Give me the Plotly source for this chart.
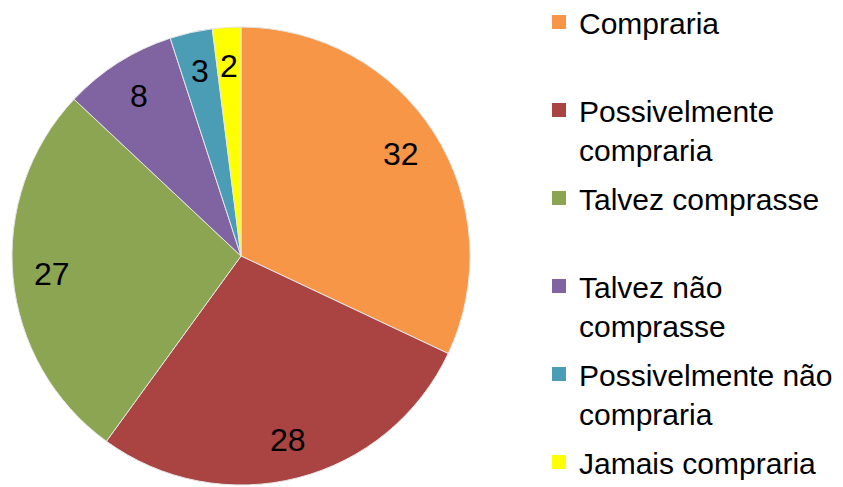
import math
import plotly.graph_objects as go

categories = ["Compraria", "Possivelmente compraria", "Talvez comprasse",
              "Talvez não comprasse", "Possivelmente não compraria", "Jamais compraria"]
legend_labels = ["Compraria<br> ", "Possivelmente<br>compraria", "Talvez comprasse<br> ",
                 "Talvez não<br>comprasse", "Possivelmente não<br>compraria", "Jamais compraria"]
values = [32, 28, 27, 8, 3, 2]
colors = ["#F79646", "#A94442", "#8BA552", "#8064A2", "#4A9DB5", "#FFFF00"]

W, H = 843, 487
FONT = "Liberation Sans, Arial, sans-serif"

# pie geometry (paper pixels)
CX, CY, R = 233, 248, 229

fig = go.Figure()
fig.add_trace(go.Pie(
    labels=categories,
    values=values,
    sort=False,
    direction="clockwise",
    rotation=0,
    marker=dict(colors=colors, line=dict(color="#E6E6E6", width=1)),
    textinfo="none",
    domain=dict(x=[(CX - R) / W, (CX + R) / W], y=[1 - (CY + R) / H, 1 - (CY - R) / H]),
    hoverinfo="label+value",
    showlegend=False,
))

# legend entries (one per category)
for i, (lab, col) in enumerate(zip(legend_labels, colors)):
    fig.add_trace(go.Scatter(
        x=[None], y=[None], mode="markers",
        marker=dict(symbol="square", size=14, color=col),
        name=lab, legendgroup=f"g{i}", showlegend=True, hoverinfo="skip",
    ))

# value labels placed along each slice bisector
total = sum(values)
cum = 0
for v in values:
    mid = (cum + v / 2) / total * 2 * math.pi
    cum += v
    px = CX + 0.83 * R * math.sin(mid)
    py = CY - 0.83 * R * math.cos(mid)
    fig.add_annotation(
        x=px / W, y=1 - py / H, xref="paper", yref="paper",
        text=str(v), showarrow=False,
        font=dict(family=FONT, size=32, color="black"),
        xanchor="center", yanchor="middle",
    )

fig.update_layout(
    width=W, height=H,
    margin=dict(l=0, r=0, t=0, b=0, autoexpand=False),
    paper_bgcolor="white",
    plot_bgcolor="white",
    xaxis=dict(visible=False),
    yaxis=dict(visible=False),
    showlegend=True,
    legend=dict(
        x=531 / W, xanchor="left",
        y=7.0 / H, yanchor="bottom",
        valign="top",
        maxheight=1000,
        font=dict(family=FONT, size=30, color="black"),
        traceorder="grouped",
        tracegroupgap=7,
        bgcolor="rgba(0,0,0,0)",
    ),
)

fig.write_html("out.html")
